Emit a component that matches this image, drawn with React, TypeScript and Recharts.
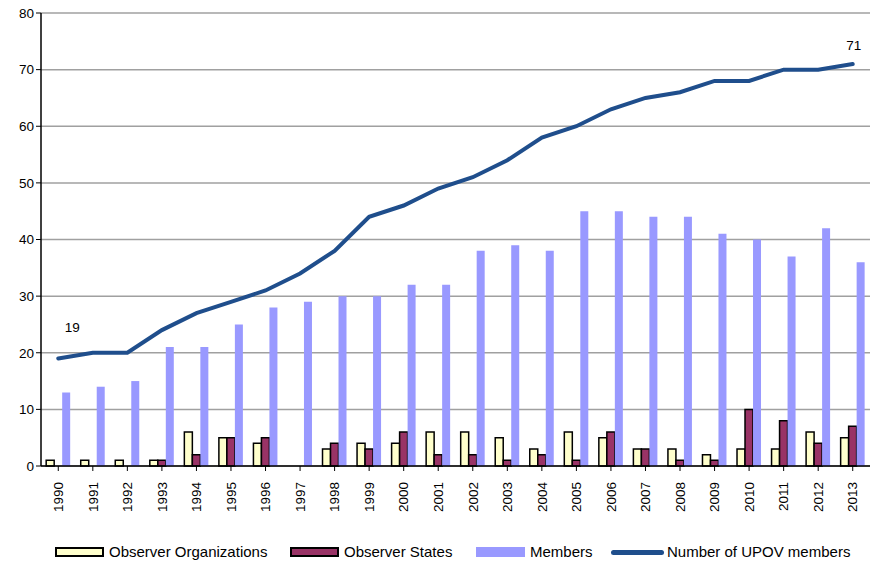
import React from "react";
import {
  ComposedChart,
  Bar,
  Line,
  XAxis,
  YAxis,
  CartesianGrid,
  Legend,
} from "recharts";

const years = [
  "1990", "1991", "1992", "1993", "1994", "1995", "1996", "1997",
  "1998", "1999", "2000", "2001", "2002", "2003", "2004", "2005",
  "2006", "2007", "2008", "2009", "2010", "2011", "2012", "2013",
];
const observerOrgs = [1, 1, 1, 1, 6, 5, 4, 0, 3, 4, 4, 6, 6, 5, 3, 6, 5, 3, 3, 2, 3, 3, 6, 5];
const observerStates = [0, 0, 0, 1, 2, 5, 5, 0, 4, 3, 6, 2, 2, 1, 2, 1, 6, 3, 1, 1, 10, 8, 4, 7];
const members = [13, 14, 15, 21, 21, 25, 28, 29, 30, 30, 32, 32, 38, 39, 38, 45, 45, 44, 44, 41, 40, 37, 42, 36];
const upovMembers = [19, 20, 20, 24, 27, 29, 31, 34, 38, 44, 46, 49, 51, 54, 58, 60, 63, 65, 66, 68, 68, 70, 70, 71];
const yTicks = [0, 10, 20, 30, 40, 50, 60, 70, 80];

const data = years.map((year, i) => ({
  year,
  orgs: observerOrgs[i],
  states: observerStates[i],
  members: members[i],
  upov: upovMembers[i],
}));

const FONT = "'Liberation Sans', Arial, sans-serif";
const LINE_COLOR = "#1F4E8C";

const YearTick = (props: any) => {
  const { x, y, payload } = props;
  return (
    <text
      x={0}
      y={0}
      transform={`translate(${x},${y + 9}) rotate(-90)`}
      textAnchor="end"
      dy="0.35em"
      fontSize={13.5}
      fontFamily={FONT}
      fill="#000"
    >
      {payload.value}
    </text>
  );
};

const EndLabel = (props: any) => {
  const { x, y, index, value } = props;
  if (index === 0) {
    return (
      <text x={x + 14} y={y - 31} textAnchor="middle" dy="0.35em" fontSize={13.5} fontFamily={FONT} fill="#000">
        {value}
      </text>
    );
  }
  if (index === years.length - 1) {
    return (
      <text x={x + 1} y={y - 19} textAnchor="middle" dy="0.35em" fontSize={13.5} fontFamily={FONT} fill="#000">
        {value}
      </text>
    );
  }
  return null;
};

// legend entries, left edge of the swatch for each
const legendItems = [
  { label: "Observer Organizations", kind: "box", fill: "#FFFFCC", border: true, left: 55 },
  { label: "Observer States", kind: "box", fill: "#993366", border: true, left: 290 },
  { label: "Members", kind: "box", fill: "#9999FF", border: false, left: 476 },
  { label: "Number of UPOV members", kind: "line", fill: LINE_COLOR, border: false, left: 611 },
];

const LegendContent = () => (
  <div style={{ position: "relative", width: 870, height: 40, fontFamily: FONT, fontSize: 15, color: "#000" }}>
    {legendItems.map((it) => (
      <div
        key={it.label}
        style={{
          position: "absolute",
          left: it.left,
          top: 17,
          display: "flex",
          alignItems: "center",
          whiteSpace: "nowrap",
          height: 18,
        }}
      >
        {it.kind === "box" ? (
          <div
            style={{
              width: it.border ? 45 : 49,
              height: it.border ? 6 : 10,
              background: it.fill,
              border: it.border ? "2px solid #000" : "none",
            }}
          />
        ) : (
          <div style={{ width: 53, height: 5, background: it.fill, borderRadius: 3 }} />
        )}
        <span style={{ marginLeft: it.kind === "line" ? 3 : 5, lineHeight: "18px" }}>{it.label}</span>
      </div>
    ))}
  </div>
);

export default function App() {
  return (
    <div style={{ position: "absolute", left: 0, top: 0, background: "#fff" }}>
      <ComposedChart
        width={870}
        height={566}
        data={data}
        margin={{ top: 13, right: 0, left: 0, bottom: 0 }}
        barCategoryGap="15%"
        barGap={0}
      >
        <CartesianGrid vertical={false} stroke="#A0A0A0" strokeWidth={1.5} />
        <XAxis
          dataKey="year"
          interval={0}
          height={60}
          tick={<YearTick />}
          axisLine={{ stroke: "#000", strokeWidth: 1.5 }}
          tickLine={{ stroke: "#000" }}
          tickSize={5}
        />
        <YAxis
          width={41}
          domain={[0, 80]}
          ticks={yTicks}
          interval={0}
          tick={{ fill: "#000", fontSize: 13.5, fontFamily: FONT }}
          axisLine={{ stroke: "#000", strokeWidth: 1.5 }}
          tickLine={{ stroke: "#000" }}
          tickSize={5}
        />
        <Legend verticalAlign="bottom" height={40} content={<LegendContent />} />
        <Bar dataKey="orgs" name="Observer Organizations" fill="#FFFFCC" stroke="#000" strokeWidth={1.5} isAnimationActive={false} />
        <Bar dataKey="states" name="Observer States" fill="#993366" stroke="#000" strokeWidth={1.5} isAnimationActive={false} />
        <Bar dataKey="members" name="Members" fill="#9999FF" isAnimationActive={false} />
        <Line
          type="linear"
          dataKey="upov"
          name="Number of UPOV members"
          stroke={LINE_COLOR}
          strokeWidth={4}
          strokeLinecap="round"
          dot={false}
          label={<EndLabel />}
          isAnimationActive={false}
        />
      </ComposedChart>
    </div>
  );
}
